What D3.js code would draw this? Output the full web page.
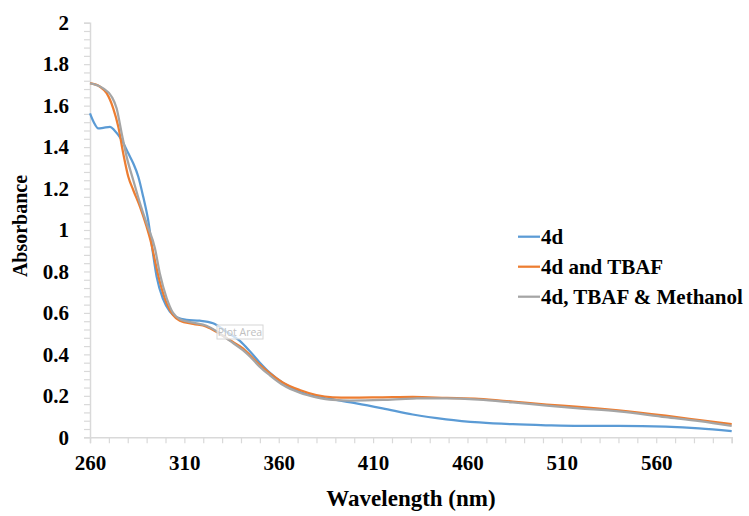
<!DOCTYPE html>
<html>
<head>
<meta charset="utf-8">
<script src="https://cdn.jsdelivr.net/npm/d3@7"></script>
<style>
  body { margin: 0; background: #fff; }
  svg text { font-family: "Liberation Serif", "Tinos", "Times New Roman", "DejaVu Serif", serif; font-weight: bold; fill: #000; }
</style>
</head>
<body>
<div class="uv-chart"></div>
<script>
// wavelength (nm) / absorbance pairs
const seriesNames = ["4d", "4d and TBAF", "4d, TBAF & Methanol"];
const seriesColors = ["#5b9bd5", "#ed7d31", "#a5a5a5"];

const wl4d = [260, 262, 264.4, 267, 270.6, 273, 276.8, 280.3, 282.9, 285.6, 288.2, 290.8, 293, 295.3, 298.8, 302.3, 305.9, 311.2, 318.2, 325.2, 332.3, 339.4, 344.7, 350, 355.2, 362.3, 371.1, 379.9, 390.5, 401.1, 415, 431, 448.7, 466.3, 484, 501.6, 519.3, 540, 565, 582.7, 600];
const abs4d = [1.563, 1.52, 1.49, 1.493, 1.498, 1.48, 1.434, 1.37, 1.322, 1.257, 1.16, 1.048, 0.91, 0.775, 0.665, 0.606, 0.579, 0.566, 0.5625, 0.55, 0.509, 0.465, 0.415, 0.36, 0.312, 0.262, 0.22, 0.196, 0.18, 0.164, 0.14, 0.11, 0.087, 0.072, 0.063, 0.058, 0.055, 0.055, 0.051, 0.043, 0.03];

const wlTbaf = [260, 265.3, 268.8, 272.3, 275, 277.6, 280.3, 282.9, 286.5, 290, 292.6, 294, 297, 300.6, 304, 307.6, 314.7, 321.7, 327, 334, 341, 344.7, 350, 355.2, 362.3, 371.1, 379.9, 388.7, 397.6, 415, 431, 449, 466, 484, 502, 519, 540, 565, 583, 600];
const absTbaf = [1.708, 1.691, 1.66, 1.587, 1.498, 1.37, 1.257, 1.193, 1.112, 1.016, 0.93, 0.87, 0.75, 0.646, 0.59, 0.5625, 0.547, 0.534, 0.509, 0.469, 0.429, 0.397, 0.349, 0.309, 0.263, 0.228, 0.204, 0.193, 0.191, 0.193, 0.195, 0.19, 0.185, 0.172, 0.158, 0.147, 0.13, 0.104, 0.083, 0.063];

const wlMeoh = [260, 267, 271.5, 274.1, 276.8, 279.4, 282.9, 286.5, 290, 294.4, 297, 300.6, 304, 307.6, 314.7, 321.7, 327, 334, 341, 344.7, 350, 355.2, 362.3, 371.1, 379.9, 388.7, 397.6, 415, 431, 449, 466, 484, 502, 519, 540, 565, 583, 600];
const absMeoh = [1.708, 1.683, 1.643, 1.587, 1.466, 1.354, 1.241, 1.129, 1.032, 0.912, 0.79, 0.672, 0.6, 0.57, 0.553, 0.538, 0.512, 0.466, 0.42, 0.39, 0.34, 0.3, 0.252, 0.215, 0.193, 0.18, 0.177, 0.18, 0.187, 0.188, 0.182, 0.168, 0.153, 0.14, 0.125, 0.097, 0.078, 0.055];

const xLabelTicks = [260, 310, 360, 410, 460, 510, 560];
const yLabelTicks = [0, 0.2, 0.4, 0.6, 0.8, 1, 1.2, 1.4, 1.6, 1.8, 2];

const width = 749, height = 516;
const svg = d3.select(".uv-chart").append("svg")
  .attr("width", width)
  .attr("height", height);

const x = d3.scaleLinear().domain([260, 600]).range([90, 731.7]);
const y = d3.scaleLinear().domain([0, 2]).range([437.3, 22.7]);

const axisColor = "#d9d9d9";

// y axis: minor ticks every 0.04, labels every 0.2
const yMinor = svg.append("g")
  .attr("transform", `translate(${x.range()[0]},0)`)
  .call(d3.axisLeft(y).tickValues(d3.range(0, 51).map(i => i / 25)).tickSize(6).tickFormat(""));
yMinor.select(".domain").attr("stroke", axisColor).attr("stroke-width", 1.5);
yMinor.selectAll(".tick line").attr("stroke", axisColor).attr("stroke-width", 1.2);

svg.append("g")
  .attr("transform", `translate(${x.range()[0] - 18},0)`)
  .call(d3.axisLeft(y).tickValues(yLabelTicks).tickSize(0).tickFormat(d => +d.toFixed(1)))
  .call(g => g.select(".domain").remove())
  .selectAll("text")
  .attr("font-size", 21);

// x axis: ticks every 10 nm, labels every 50
const xMinor = svg.append("g")
  .attr("transform", `translate(0,${y.range()[0]})`)
  .call(d3.axisBottom(x).tickValues(d3.range(260, 601, 10)).tickSize(6).tickFormat(""));
xMinor.select(".domain").attr("stroke", axisColor).attr("stroke-width", 1.5);
xMinor.selectAll(".tick line").attr("stroke", axisColor).attr("stroke-width", 1.2);

svg.append("g")
  .attr("transform", `translate(0,${y.range()[0] + 15})`)
  .call(d3.axisBottom(x).tickValues(xLabelTicks).tickSize(0).tickFormat(d3.format("d")))
  .call(g => g.select(".domain").remove())
  .selectAll("text")
  .attr("font-size", 21);

// axis titles
svg.append("text")
  .attr("x", 411)
  .attr("y", 506)
  .attr("text-anchor", "middle")
  .attr("font-size", 23)
  .text("Wavelength (nm)");

svg.append("text")
  .attr("transform", "translate(27,226) rotate(-90)")
  .attr("text-anchor", "middle")
  .attr("font-size", 20)
  .text("Absorbance");

// spectra
const series = [
  { name: seriesNames[0], color: seriesColors[0], wl: wl4d, abs: abs4d },
  { name: seriesNames[1], color: seriesColors[1], wl: wlTbaf, abs: absTbaf },
  { name: seriesNames[2], color: seriesColors[2], wl: wlMeoh, abs: absMeoh }
];

const line = d3.line()
  .x(d => x(d[0]))
  .y(d => y(d[1]))
  .curve(d3.curveMonotoneX);

svg.selectAll(".spectrum")
  .data(series)
  .join("path")
  .attr("class", "spectrum")
  .attr("fill", "none")
  .attr("stroke", s => s.color)
  .attr("stroke-width", 2.25)
  .attr("stroke-linejoin", "round")
  .attr("d", s => line(s.wl.map((w, i) => [w, s.abs[i]])));

// legend
const legend = svg.append("g").attr("class", "legend");
const rows = legend.selectAll("g")
  .data(series)
  .join("g")
  .attr("transform", (s, i) => `translate(518,${236.7 + i * 30})`);
rows.append("line")
  .attr("x1", 0).attr("x2", 22)
  .attr("stroke", s => s.color)
  .attr("stroke-width", 2.25);
rows.append("text")
  .attr("x", 23)
  .attr("dy", "0.35em")
  .attr("font-size", 21)
  .text(s => s.name);

// the "Plot Area" hover label left in the screenshot
const tip = svg.append("g").attr("transform", "translate(217,325)");
tip.append("rect")
  .attr("width", 46).attr("height", 14)
  .attr("fill", "#fff").attr("fill-opacity", 0.7)
  .attr("stroke", "#d6d6d6");
tip.append("text")
  .attr("x", 23).attr("y", 11)
  .attr("text-anchor", "middle")
  .attr("font-size", 10.5)
  .style("font-family", "'Open Sans', sans-serif")
  .style("font-weight", "normal")
  .style("fill", "#c0c0c0")
  .text("Plot Area");
</script>
</body>
</html>
